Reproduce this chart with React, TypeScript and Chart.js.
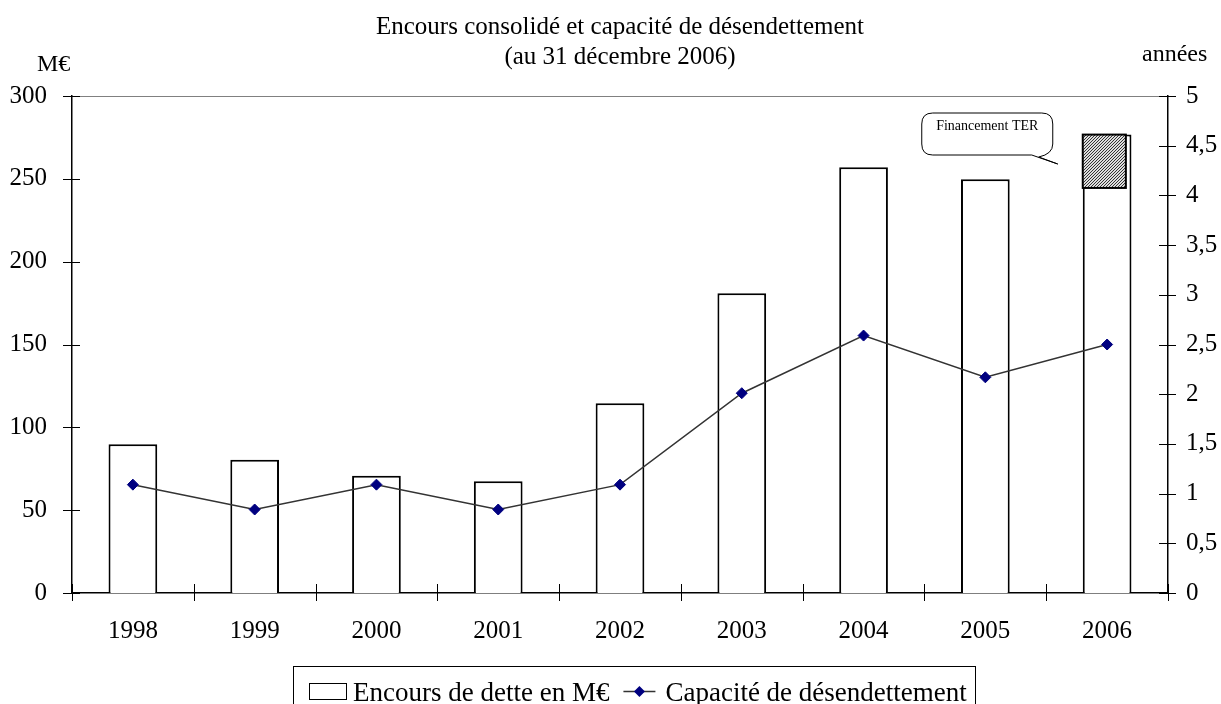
import React, { useEffect, useRef } from 'react';
import { Chart, registerables } from 'chart.js';

Chart.register(...registerables);

const years = ['1998', '1999', '2000', '2001', '2002', '2003', '2004', '2005', '2006'];
const debtOutstanding = [89.8, 80.5, 70.7, 67.4, 114.6, 181, 257, 249.8, 276.7];
const deleveragingCapacity = [1.09, 0.84, 1.09, 0.84, 1.09, 2.01, 2.59, 2.17, 2.5];
const terFinancingRange = [244.5, 276.7];
const leftTickValues = [0, 50, 100, 150, 200, 250, 300];
const rightTickValues = [0, 0.5, 1, 1.5, 2, 2.5, 3, 3.5, 4, 4.5, 5];
const titleLines = ['Encours consolidé et capacité de désendettement', '(au 31 décembre 2006)'];
const legendLabels = ['Encours de dette en M€', 'Capacité de désendettement'];
const calloutText = 'Financement TER';
const leftUnit = 'M€';
const rightUnit = 'années';

const FONT = "'Liberation Serif', 'Times New Roman', serif";
const W = 1221;
const H = 704;

function makeHatch(): CanvasPattern | string {
  const c = document.createElement('canvas');
  c.width = 3;
  c.height = 3;
  const g = c.getContext('2d');
  if (!g) return '#888';
  g.fillStyle = '#ddd';
  g.fillRect(0, 0, 3, 3);
  g.fillStyle = '#333';
  g.fillRect(2, 0, 1, 1);
  g.fillRect(1, 1, 1, 1);
  g.fillRect(0, 2, 1, 1);
  const p = g.createPattern(c, 'repeat');
  return p || '#888';
}

const overlayPlugin = {
  id: 'overlay',
  afterDatasetsDraw(chart: any) {
    const ctx = chart.ctx as CanvasRenderingContext2D;
    const yScale = chart.scales.y;
    const el = chart.getDatasetMeta(0).data[years.length - 1];
    const p = el.getProps(['x', 'width'], true);
    const left = p.x - p.width / 2;
    const w = p.width * 0.885;
    const top = yScale.getPixelForValue(terFinancingRange[1]);
    const bottom = yScale.getPixelForValue(terFinancingRange[0]);
    ctx.save();
    ctx.fillStyle = makeHatch() as any;
    ctx.fillRect(left, top, w, bottom - top);
    ctx.strokeStyle = '#000';
    ctx.lineWidth = 2;
    ctx.strokeRect(left, top, w, bottom - top);
    ctx.restore();
  },
  afterDraw(chart: any) {
    const ctx = chart.ctx as CanvasRenderingContext2D;
    const area = chart.chartArea;
    const xScale = chart.scales.x;
    const yScale = chart.scales.y;
    const y1Scale = chart.scales.y1;
    ctx.save();

    // top border line
    ctx.strokeStyle = '#808080';
    ctx.lineWidth = 1;
    ctx.beginPath();
    ctx.moveTo(area.left, Math.round(yScale.getPixelForValue(300)) + 0.5);
    ctx.lineTo(area.right, Math.round(yScale.getPixelForValue(300)) + 0.5);
    ctx.stroke();

    // tick marks crossing axes
    ctx.strokeStyle = '#000';
    ctx.lineWidth = 1;
    ctx.beginPath();
    leftTickValues.forEach((v) => {
      const y = Math.round(yScale.getPixelForValue(v)) + 0.5;
      ctx.moveTo(area.left - 9, y);
      ctx.lineTo(area.left + 8, y);
    });
    rightTickValues.forEach((v) => {
      const y = Math.round(y1Scale.getPixelForValue(v)) + 0.5;
      ctx.moveTo(area.right - 9, y);
      ctx.lineTo(area.right + 8, y);
    });
    const step = xScale.getPixelForValue(1) - xScale.getPixelForValue(0);
    for (let i = 0; i <= years.length; i++) {
      const x = Math.round(xScale.getPixelForValue(i) - step / 2) + 0.5;
      ctx.moveTo(x, area.bottom - 9);
      ctx.lineTo(x, area.bottom + 8);
    }
    ctx.stroke();

    // titles
    ctx.fillStyle = '#000';
    ctx.font = `25px ${FONT}`;
    ctx.textAlign = 'center';
    ctx.textBaseline = 'alphabetic';
    ctx.fillText(titleLines[0], 620, 34);
    ctx.fillText(titleLines[1], 620, 64);
    ctx.textAlign = 'left';
    ctx.font = `24px ${FONT}`;
    ctx.fillText(leftUnit, 37, 71);
    ctx.fillText(rightUnit, 1142, 61);

    // callout
    const el = chart.getDatasetMeta(0).data[years.length - 1];
    const bp = el.getProps(['x', 'width'], true);
    const barLeft = bp.x - bp.width / 2;
    const bx0 = barLeft - 161;
    const bx1 = barLeft - 30;
    const by0 = 113;
    const by1 = 155;
    const r = 11;
    const tipX = barLeft - 25;
    const tipY = 164;
    ctx.fillStyle = '#fff';
    ctx.strokeStyle = '#000';
    ctx.lineWidth = 1;
    ctx.beginPath();
    ctx.moveTo(bx0 + r, by0);
    ctx.lineTo(bx1 - r, by0);
    ctx.quadraticCurveTo(bx1, by0, bx1, by0 + r);
    ctx.lineTo(bx1, by1 - r);
    ctx.quadraticCurveTo(bx1, by1 - 1, bx1 - 14, by1 + 2);
    ctx.lineTo(tipX, tipY);
    ctx.lineTo(bx1 - 21, by1);
    ctx.lineTo(bx0 + r, by1);
    ctx.quadraticCurveTo(bx0, by1, bx0, by1 - r);
    ctx.lineTo(bx0, by0 + r);
    ctx.quadraticCurveTo(bx0, by0, bx0 + r, by0);
    ctx.closePath();
    ctx.fill();
    ctx.stroke();
    ctx.fillStyle = '#000';
    ctx.font = `14px ${FONT}`;
    ctx.textAlign = 'center';
    ctx.fillText(calloutText, (bx0 + bx1) / 2, 130);

    // legend
    ctx.textAlign = 'left';
    ctx.strokeStyle = '#000';
    ctx.lineWidth = 1;
    ctx.strokeRect(293.5, 666.5, 682, 60);
    ctx.fillStyle = '#fff';
    ctx.fillRect(309.5, 683.5, 37, 16);
    ctx.strokeRect(309.5, 683.5, 37, 16);
    ctx.fillStyle = '#000';
    ctx.font = `27px ${FONT}`;
    ctx.fillText(legendLabels[0], 353, 701);
    const x = 353 + ctx.measureText(legendLabels[0]).width + 14;
    ctx.strokeStyle = '#333';
    ctx.lineWidth = 1.5;
    ctx.beginPath();
    ctx.moveTo(x, 691.5);
    ctx.lineTo(x + 32, 691.5);
    ctx.stroke();
    const cx = x + 16;
    ctx.fillStyle = '#000080';
    ctx.beginPath();
    ctx.moveTo(cx, 686);
    ctx.lineTo(cx + 5.5, 691.5);
    ctx.lineTo(cx, 697);
    ctx.lineTo(cx - 5.5, 691.5);
    ctx.closePath();
    ctx.fill();
    ctx.fillStyle = '#000';
    ctx.fillText(legendLabels[1], x + 42, 701);

    ctx.restore();
  },
};

export default function App() {
  const ref = useRef<HTMLCanvasElement | null>(null);
  useEffect(() => {
    if (!ref.current) return;
    const chart = new Chart(ref.current, {
      type: 'bar',
      data: {
        labels: years,
        datasets: [
          {
            type: 'bar',
            label: legendLabels[0],
            data: debtOutstanding,
            backgroundColor: '#ffffff',
            borderColor: '#000000',
            borderWidth: 2,
            barPercentage: 0.4,
            categoryPercentage: 1,
            yAxisID: 'y',
            order: 2,
          },
          {
            type: 'line',
            label: legendLabels[1],
            data: deleveragingCapacity,
            borderColor: '#333333',
            borderWidth: 1.5,
            pointStyle: 'rectRot',
            pointRadius: 5.5,
            pointBackgroundColor: '#000080',
            pointBorderColor: '#000080',
            pointBorderWidth: 1,
            tension: 0,
            yAxisID: 'y1',
            order: 1,
          } as any,
        ],
      },
      options: {
        responsive: false,
        animation: false,
        devicePixelRatio: 1,
        layout: { padding: { top: 96, bottom: 61, left: 0, right: 0 } },
        plugins: {
          legend: { display: false },
          title: { display: false },
          tooltip: { enabled: false },
        },
        scales: {
          x: {
            type: 'category',
            offset: true,
            grid: { display: false, drawTicks: false },
            border: { display: true, color: '#000', width: 1.5 },
            ticks: {
              color: '#000',
              font: { family: FONT, size: 25 },
              padding: 23,
              maxRotation: 0,
              autoSkip: false,
            },
            afterFit: (s: any) => {
              s.height = 50;
            },
          },
          y: {
            position: 'left',
            min: 0,
            max: 300,
            grid: { display: false, drawTicks: false },
            border: { display: true, color: '#000', width: 1.5 },
            ticks: {
              stepSize: 50,
              color: '#000',
              font: { family: FONT, size: 25 },
              padding: 25,
            },
            afterFit: (s: any) => {
              s.width = 72;
            },
          },
          y1: {
            position: 'right',
            min: 0,
            max: 5,
            grid: { display: false, drawTicks: false },
            border: { display: true, color: '#000', width: 1.5 },
            ticks: {
              stepSize: 0.5,
              color: '#000',
              font: { family: FONT, size: 25 },
              padding: 18,
              callback: (v: any) => String(v).replace('.', ','),
            },
            afterFit: (s: any) => {
              s.width = W - 1168;
            },
          },
        },
      },
      plugins: [overlayPlugin],
    });
    return () => chart.destroy();
  }, []);
  return (
    <div style={{ position: 'absolute', left: 0, top: 0, width: W, height: H, background: '#fff' }}>
      <canvas ref={ref} width={W} height={H} style={{ display: 'block', width: W, height: H }} />
    </div>
  );
}
